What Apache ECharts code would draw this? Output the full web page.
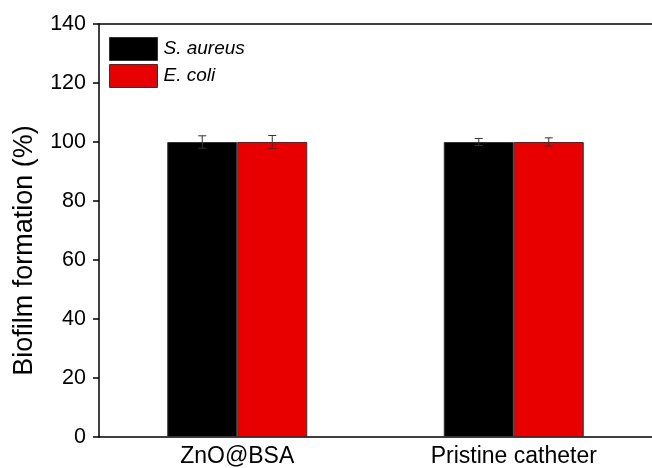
<!DOCTYPE html>
<html><head><meta charset="utf-8">
<script src="https://cdn.jsdelivr.net/npm/echarts@6/dist/echarts.min.js"></script>
<style>html,body{margin:0;padding:0;background:#fff}#c{width:652px;height:468px}</style>
</head><body><div id="c"></div>
<script>
const categories = ['ZnO@BSA', 'Pristine catheter'];
const seriesNames = ['S. aureus', 'E. coli'];
const saureus = [100, 100];
const saureusErr = [2.1, 1.2];
const ecoli = [100, 100];
const ecoliErr = [2.2, 1.4];
const yTicks = [0, 20, 40, 60, 80, 100, 120, 140];

const chart = echarts.init(document.getElementById('c'));
const font = '"Liberation Sans", Arial, sans-serif';
const BW = 70;

function errSeries(name, means, errs, offset) {
  return {
    type: 'custom', name: name + ' err', z: 10,
    data: means.map((m, i) => [i, m, errs[i]]),
    renderItem: function (params, api) {
      const i = api.value(0), m = api.value(1), e = api.value(2);
      const c = api.coord([i, m]);
      const hi = api.coord([i, m + e]);
      const lo = api.coord([i, m - e]);
      const x = c[0] + offset;
      const cap = 4;
      const st = { stroke: '#333', lineWidth: 1 };
      return { type: 'group', children: [
        { type: 'line', shape: { x1: x, y1: hi[1], x2: x, y2: lo[1] }, style: st },
        { type: 'line', shape: { x1: x - cap, y1: hi[1], x2: x + cap, y2: hi[1] }, style: st },
        { type: 'line', shape: { x1: x - cap, y1: lo[1], x2: x + cap, y2: lo[1] }, style: st }
      ]};
    }
  };
}

chart.setOption({
  animation: false,
  grid: { left: 99, right: -2, top: 24, bottom: 31, containLabel: false },
  legend: {
    left: 104, top: 32, orient: 'vertical', itemWidth: 48, itemHeight: 23, itemGap: 3,
    icon: 'rect',
    data: seriesNames,
    itemStyle: { borderColor: '#333', borderWidth: 1 },
    textStyle: { fontFamily: font, fontSize: 19, fontStyle: 'italic', color: '#000', padding: [0, 0, 0, 1] }
  },
  xAxis: [{
    type: 'category', data: categories,
    axisLine: { lineStyle: { color: '#000', width: 1.5 } },
    axisTick: { show: false },
    axisLabel: { fontFamily: font, fontSize: 23, color: '#000', margin: 8 }
  }, {
    type: 'category', data: categories, position: 'top',
    axisLine: { show: true, lineStyle: { color: '#000', width: 1.5 } },
    axisTick: { show: false }, axisLabel: { show: false }
  }],
  yAxis: {
    type: 'value', min: 0, max: 140, interval: 20,
    name: 'Biofilm formation (%)', nameLocation: 'middle', nameGap: 61,
    nameTextStyle: { fontFamily: font, fontSize: 27, color: '#000', padding: [0, 40, 0, 0] },
    axisLine: { show: true, lineStyle: { color: '#000', width: 1.5 } },
    axisTick: { show: true, inside: false, length: 6, lineStyle: { color: '#000', width: 1.5 } },
    axisLabel: { fontFamily: font, fontSize: 21.5, color: '#000', margin: 13,
      formatter: v => yTicks.includes(v) ? String(v) : '' },
    splitLine: { show: false }
  },
  series: [
    { name: seriesNames[0], type: 'bar', data: saureus, barWidth: BW, barGap: '0%',
      itemStyle: { color: '#000', borderColor: '#333', borderWidth: 1 } },
    { name: seriesNames[1], type: 'bar', data: ecoli, barWidth: BW, barGap: '0%',
      itemStyle: { color: '#e80000', borderColor: '#333', borderWidth: 1 } },
    errSeries(seriesNames[0], saureus, saureusErr, -BW / 2),
    errSeries(seriesNames[1], ecoli, ecoliErr, BW / 2)
  ]
});
</script></body></html>
